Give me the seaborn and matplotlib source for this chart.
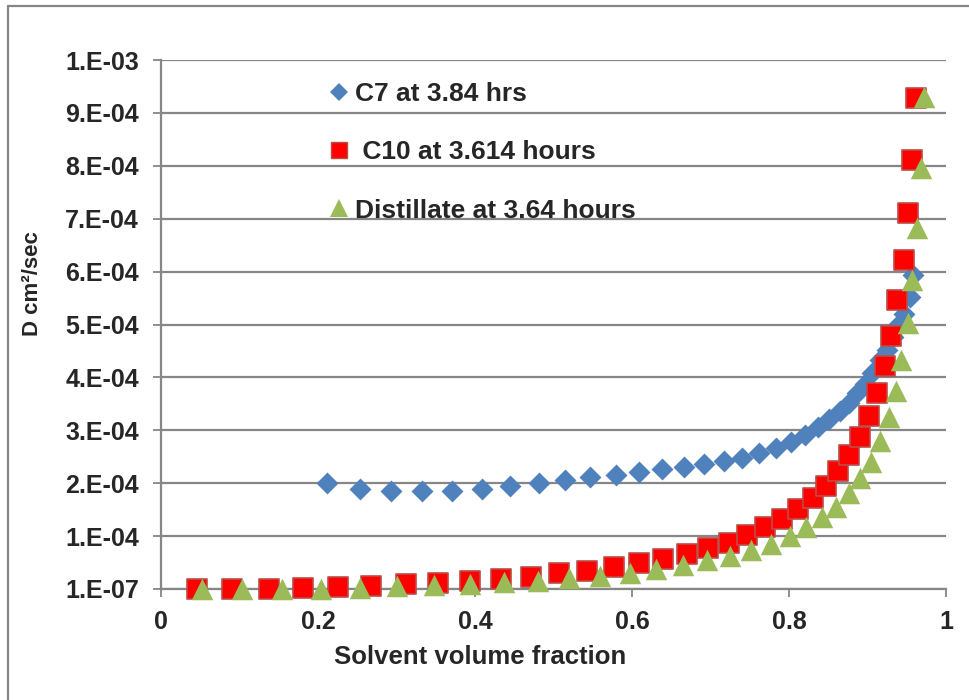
import matplotlib
matplotlib.use("Agg")
import matplotlib.pyplot as plt
from matplotlib.lines import Line2D
from matplotlib.ticker import FixedLocator, FuncFormatter
import numpy as np
import pandas as pd
import seaborn as sns

# Diffusion coefficient (units of 1e-4 cm^2/s) against solvent volume fraction
c7_frac = [0.212, 0.253, 0.293, 0.333, 0.371, 0.409, 0.445, 0.481, 0.515, 0.547,
           0.579, 0.609, 0.638, 0.666, 0.692, 0.717, 0.740, 0.762, 0.783, 0.802,
           0.820, 0.837, 0.851, 0.865, 0.877, 0.887, 0.897, 0.906, 0.916, 0.925,
           0.933, 0.939, 0.946, 0.954, 0.958]
c7_d = [2.00, 1.90, 1.86, 1.85, 1.86, 1.89, 1.95, 2.00, 2.06, 2.11,
        2.16, 2.22, 2.26, 2.30, 2.36, 2.42, 2.48, 2.58, 2.67, 2.78,
        2.91, 3.06, 3.21, 3.37, 3.52, 3.70, 3.88, 4.08, 4.33, 4.52,
        4.77, 4.99, 5.20, 5.53, 5.94]

c10_frac = [0.046, 0.091, 0.137, 0.181, 0.226, 0.268, 0.312, 0.353, 0.394, 0.433,
            0.471, 0.507, 0.543, 0.577, 0.609, 0.640, 0.670, 0.697, 0.723, 0.747,
            0.770, 0.791, 0.811, 0.830, 0.847, 0.862, 0.876, 0.890, 0.902, 0.912,
            0.922, 0.930, 0.938, 0.946, 0.952, 0.957, 0.962]
c10_d = [0.001, 0.004, 0.008, 0.025, 0.038, 0.062, 0.095, 0.119, 0.150, 0.190,
         0.230, 0.300, 0.340, 0.410, 0.490, 0.570, 0.660, 0.770, 0.880, 1.020,
         1.170, 1.320, 1.510, 1.730, 1.950, 2.230, 2.530, 2.870, 3.270, 3.710,
         4.220, 4.790, 5.460, 6.220, 7.100, 8.120, 9.290]

dist_frac = [0.052, 0.103, 0.154, 0.204, 0.253, 0.301, 0.348, 0.394, 0.437, 0.480,
             0.520, 0.559, 0.597, 0.631, 0.665, 0.696, 0.725, 0.752, 0.777, 0.801,
             0.822, 0.842, 0.860, 0.876, 0.891, 0.904, 0.916, 0.927, 0.936, 0.943,
             0.951, 0.957, 0.963, 0.968, 0.972]
dist_d = [0.001, 0.001, 0.002, 0.006, 0.020, 0.050, 0.070, 0.100, 0.130, 0.150,
          0.200, 0.250, 0.310, 0.380, 0.450, 0.540, 0.630, 0.740, 0.860, 1.010,
          1.170, 1.360, 1.560, 1.810, 2.090, 2.410, 2.800, 3.250, 3.740, 4.330,
          5.020, 5.840, 6.820, 7.950, 9.310]

series_labels = ["C7 at 3.84 hrs", " C10 at 3.614 hours", "Distillate at 3.64 hours"]
x_ticks = [0, 0.2, 0.4, 0.6, 0.8, 1]
x_tick_labels = ["0", "0.2", "0.4", "0.6", "0.8", "1"]
y_ticks = [1e-7 + k * 1e-4 for k in range(11)]

SCALE = 1e-4
df_c7 = pd.DataFrame({"frac": c7_frac, "D": np.array(c7_d) * SCALE})
df_c10 = pd.DataFrame({"frac": c10_frac, "D": np.array(c10_d) * SCALE})
df_dist = pd.DataFrame({"frac": dist_frac, "D": np.array(dist_d) * SCALE})

sns.set_theme(style="white")
plt.rcParams["font.family"] = ["Liberation Sans", "DejaVu Sans"]
plt.rcParams["font.weight"] = "bold"

GRID = "#868686"
BLUE = "#4F81BD"
RED = "#FF0000"
RED_EDGE = "#BE4B48"
GREEN = "#9BBB59"

fig = plt.figure(figsize=(9.69, 7.0), dpi=100)
ax = fig.add_axes([161 / 969, 1 - 589 / 700, 785 / 969, 529 / 700])

# outer chart-area frame (left and top edges)
fig.add_artist(Line2D([7.5 / 969, 7.5 / 969], [0, 1 - 6 / 700], transform=fig.transFigure,
                      color=GRID, lw=1.6))
fig.add_artist(Line2D([7.5 / 969, 1], [1 - 6 / 700, 1 - 6 / 700], transform=fig.transFigure,
                      color=GRID, lw=1.6))

sns.scatterplot(data=df_c7, x="frac", y="D", ax=ax, marker="D", s=125, color=BLUE,
                edgecolor=BLUE, linewidth=0, clip_on=False, zorder=3)
sns.scatterplot(data=df_c10, x="frac", y="D", ax=ax, marker="s", s=200, color=RED,
                edgecolor=RED_EDGE, linewidth=1.2, clip_on=False, zorder=4)
sns.scatterplot(data=df_dist, x="frac", y="D", ax=ax, marker="^", s=240, color=GREEN,
                edgecolor=GREEN, linewidth=0, clip_on=False, zorder=5)

ax.set_xlim(0, 1)
ax.set_ylim(y_ticks[0], y_ticks[-1])
ax.xaxis.set_major_locator(FixedLocator(x_ticks))
ax.set_xticklabels(x_tick_labels)
ax.yaxis.set_major_locator(FixedLocator(y_ticks))


def excel_sci(v, pos):
    s = "%.0E" % v
    mant, exp = s.split("E")
    return f"{mant}.E{exp}"


ax.yaxis.set_major_formatter(FuncFormatter(excel_sci))

ax.grid(axis="y", color=GRID, lw=1.6)
ax.grid(axis="x", visible=False)
ax.set_axisbelow(True)
for side in ["top", "right"]:
    ax.spines[side].set_visible(False)
for side in ["left", "bottom"]:
    ax.spines[side].set_color(GRID)
    ax.spines[side].set_linewidth(1.6)

ax.tick_params(axis="y", direction="out", length=6, width=1.3, color=GRID, left=True,
               pad=10, labelsize=18)
ax.tick_params(axis="x", direction="out", length=6, width=1.3, color=GRID, bottom=True,
               pad=9, labelsize=18)
for lab in ax.get_xticklabels() + ax.get_yticklabels():
    lab.set_fontweight("bold")

ax.set_xlabel("Solvent volume fraction", fontsize=18.5, fontweight="bold")
ax.set_ylabel("D cm²/sec", fontsize=16, fontweight="bold")
ax.xaxis.set_label_coords((480 - 161) / 785, (589 - 657) / 529)
ax.yaxis.set_label_coords((32 - 161) / 785, (589 - 284) / 529)
ax.xaxis.label.set_verticalalignment("center")
ax.yaxis.label.set_verticalalignment("center")

handles = [
    Line2D([], [], ls="none", marker="D", markersize=9, color=BLUE, markeredgewidth=0),
    Line2D([], [], ls="none", marker="s", markersize=12, color=RED,
           markeredgecolor=RED_EDGE, markeredgewidth=1.0),
    Line2D([], [], ls="none", marker="^", markersize=13, color=GREEN, markeredgewidth=0),
]
leg = ax.legend(handles, series_labels, loc="upper left",
                bbox_to_anchor=(0.19 + 16 / 785, 0.985 - 14 / 529),
                frameon=False, fontsize=19, handlelength=1.0, handletextpad=0.1,
                labelspacing=1.3, borderpad=0, borderaxespad=0)
for t in leg.get_texts():
    t.set_fontweight("bold")

fig.savefig("out.png", dpi=100)
